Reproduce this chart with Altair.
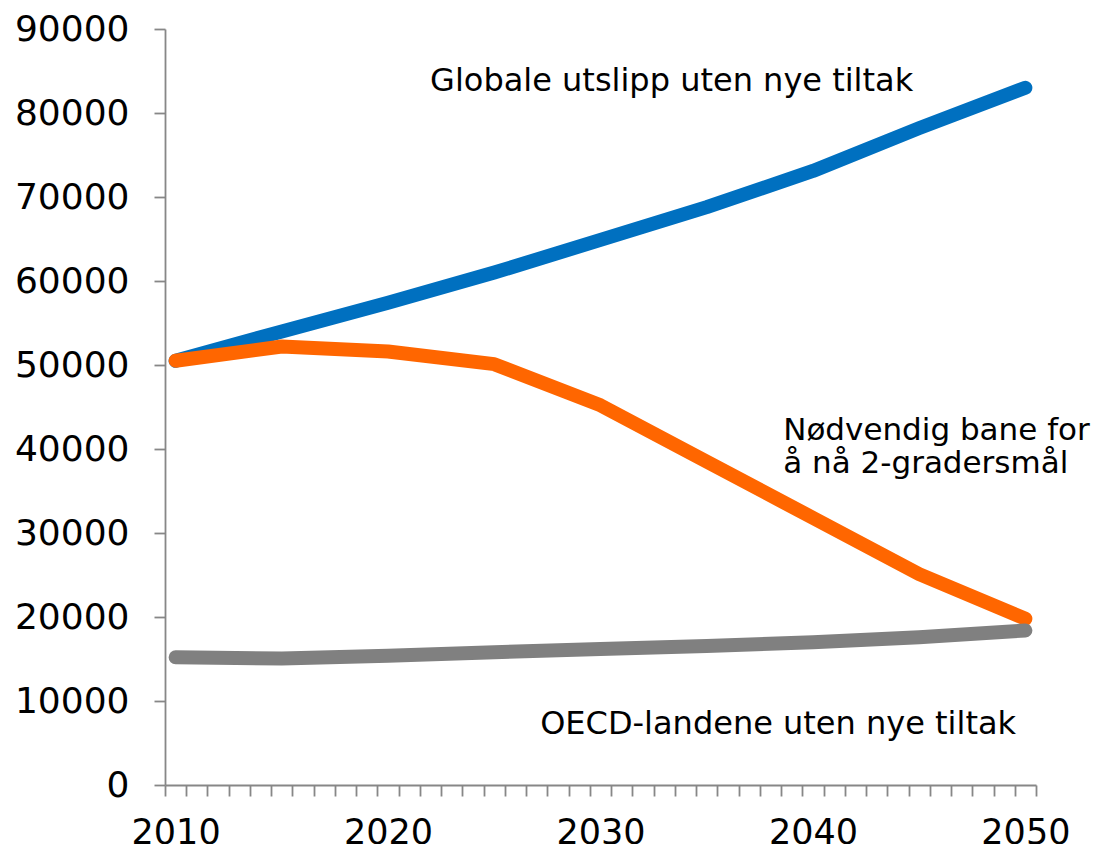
import altair as alt
import pandas as pd

# ---- data ----
years = [2010, 2015, 2020, 2025, 2030, 2035, 2040, 2045, 2050]
global_emis = [50500, 54000, 57400, 61000, 64900, 68800, 73100, 78200, 83000]
needed_path = [50500, 52200, 51600, 50100, 45200, 38500, 31800, 25100, 19800]
oecd_emis = [15200, 15050, 15400, 15800, 16200, 16550, 17000, 17600, 18400]

series_names = ["Globale utslipp uten nye tiltak", "Nødvendig bane for å nå 2-gradersmål", "OECD-landene uten nye tiltak"]
series_colors = ["#0070C0", "#FF6600", "#808080"]

label_texts = ["Globale utslipp uten nye tiltak", "Nødvendig bane for\nå nå 2-gradersmål", "OECD-landene uten nye tiltak"]
label_years = [2021.98, 2038.6, 2027.16]
label_values = [82650, 41100, 6070]
label_sizes = [32, 31, 32]

y_ticks = list(range(0, 90001, 10000))

# ---- tables ----
rows = []
for name, vals in zip(series_names, [global_emis, needed_path, oecd_emis]):
    for yr, v in zip(years, vals):
        rows.append({"year": yr, "value": v, "series": name})
df = pd.DataFrame(rows)
labels_df = pd.DataFrame({"year": label_years, "value": label_values,
                          "text": label_texts, "size": label_sizes})

FONT = "DejaVu Sans"
AXIS_COLOR = "#878787"

x_scale = alt.Scale(domain=[2009.5, 2050.5], nice=False, zero=False)
y_scale = alt.Scale(domain=[0, 90000], nice=False)
color_scale = alt.Scale(domain=series_names, range=series_colors)

x_axis = alt.Axis(
    values=[2009.5 + i for i in range(42)],
    labelExpr="(datum.value + 0.5) % 10 == 0 ? toString(datum.value + 0.5) : ''",
    labelOffset=10.62, labelOverlap=False, labelFlush=False, labelBound=False,
    labelPadding=19, labelFontSize=35, labelFont=FONT, labelColor="#000000",
    tickSize=11, tickColor=AXIS_COLOR, tickWidth=1.8,
    domainColor=AXIS_COLOR, domainWidth=1.8, grid=False, title=None,
)
y_axis = alt.Axis(
    values=y_ticks, format="d",
    labelPadding=25, labelFontSize=36, labelFont=FONT, labelColor="#000000",
    tickSize=11, tickColor=AXIS_COLOR, tickWidth=1.8,
    domainColor=AXIS_COLOR, domainWidth=1.8, grid=False, title=None,
)

layers = []
for name in series_names:
    layers.append(
        alt.Chart(df).transform_filter(alt.datum.series == name)
        .mark_line(strokeWidth=14, strokeCap="round", strokeJoin="round")
        .encode(
            x=alt.X("year:Q", scale=x_scale, axis=x_axis),
            y=alt.Y("value:Q", scale=y_scale, axis=y_axis),
            color=alt.Color("series:N", scale=color_scale, legend=None),
        )
    )

text_layer = alt.Chart(labels_df).mark_text(
    align="left", baseline="alphabetic", font=FONT,
    color="#000000", lineBreak="\n", lineHeight=33,
).encode(
    x=alt.X("year:Q", scale=x_scale, axis=x_axis),
    y=alt.Y("value:Q", scale=y_scale, axis=y_axis),
    text="text:N",
    size=alt.Size("size:Q", scale=None, legend=None),
)

chart = alt.layer(*layers, text_layer).properties(
    width=871, height=756,
    background="white",
    autosize=alt.AutoSizeParams(type="none"),
    padding={"left": 157, "top": 21, "right": 59, "bottom": 59},
).configure_view(stroke=None)

chart.save("out.html", embed_options={"renderer": "svg", "actions": False})
